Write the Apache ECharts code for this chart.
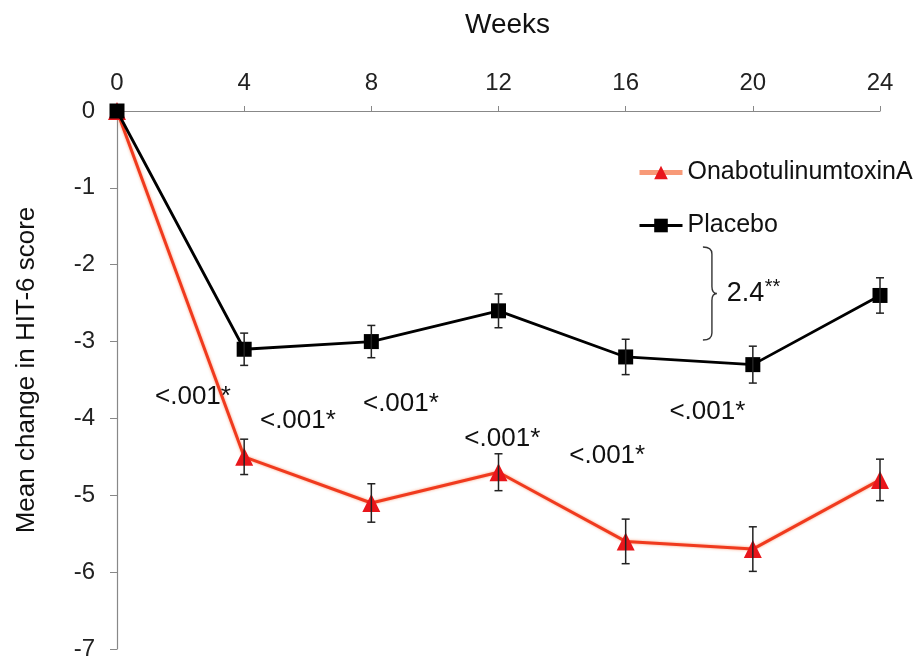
<!DOCTYPE html>
<html><head><meta charset="utf-8">
<script src="https://cdn.jsdelivr.net/npm/echarts@6/dist/echarts.min.js"></script>
<style>html,body{margin:0;padding:0;background:#fff}#c{width:920px;height:661px}</style>
</head><body><div id="c"></div>
<script>
const weeks = [0, 4, 8, 12, 16, 20, 24];
const onaMean = [0, -4.5, -5.1, -4.7, -5.6, -5.7, -4.8];
const onaErr = [0, 0.23, 0.25, 0.24, 0.29, 0.29, 0.27];
const plaMean = [0, -3.1, -3.0, -2.6, -3.2, -3.3, -2.4];
const plaErr = [0, 0.21, 0.21, 0.22, 0.23, 0.24, 0.23];
const pLabels = [
  [2.39, -3.72, '<.001*'],
  [5.69, -4.03, '<.001*'],
  [8.93, -3.81, '<.001*'],
  [12.12, -4.27, '<.001*'],
  [15.42, -4.49, '<.001*'],
  [18.57, -3.92, '<.001*']
];
const diffLabel = [[19.18, -2.38, '2.4', '**']];
const braceData = [[18.43, -1.77, -2.98]];

const chart = echarts.init(document.getElementById('c'), null, {renderer: 'canvas'});
const FONT = 'Liberation Sans, Arial, sans-serif';

function errData(mean, err) {
  return weeks.map((w, i) => [w, mean[i] - err[i], mean[i] + err[i]]);
}
function errRender(params, api) {
  const lo = api.coord([api.value(0), api.value(1)]);
  const hi = api.coord([api.value(0), api.value(2)]);
  if (Math.abs(lo[1] - hi[1]) < 1) return null;
  const cw = 4;
  const st = {stroke: '#222', lineWidth: 1.5};
  return {type: 'group', children: [
    {type: 'line', shape: {x1: lo[0], y1: lo[1], x2: hi[0], y2: hi[1]}, style: st},
    {type: 'line', shape: {x1: lo[0] - cw, y1: lo[1], x2: lo[0] + cw, y2: lo[1]}, style: st},
    {type: 'line', shape: {x1: hi[0] - cw, y1: hi[1], x2: hi[0] + cw, y2: hi[1]}, style: st}
  ]};
}

chart.setOption({
  animation: false,
  backgroundColor: '#fff',
  grid: {left: 117, right: 40, top: 111, bottom: 12, containLabel: false},
  legend: {
    orient: 'vertical', left: 632, top: 155, itemGap: 28,
    itemWidth: 43, itemHeight: 17, itemGap: 28,
    textStyle: {fontFamily: FONT, fontSize: 25, color: '#111'},
    data: [
      {name: 'OnabotulinumtoxinA', lineStyle: {color: '#f89a78', width: 5}},
      {name: 'Placebo', lineStyle: {color: '#000', width: 3}}
    ]
  },
  xAxis: {
    type: 'value', position: 'top', min: 0, max: 24, interval: 4,
    name: 'Weeks', nameLocation: 'middle', nameGap: 72,
    nameTextStyle: {fontFamily: FONT, fontSize: 28, color: '#111', padding: [0, 0, 0, 18]},
    axisLine: {show: true, lineStyle: {color: '#888', width: 1.2}},
    axisTick: {show: true, inside: false, length: 5, lineStyle: {color: '#888'}},
    axisLabel: {fontFamily: FONT, fontSize: 24, color: '#222', margin: 16},
    splitLine: {show: false}
  },
  yAxis: {
    type: 'value', min: -7, max: 0, interval: 1,
    name: 'Mean change in HIT-6 score', nameLocation: 'middle', nameGap: 77, nameRotate: 90,
    nameTextStyle: {fontFamily: FONT, fontSize: 26, color: '#111', padding: [0, 0, 0, 20]},
    axisLine: {show: true, onZero: false, lineStyle: {color: '#888', width: 1.2}},
    axisTick: {show: true, length: 7, lineStyle: {color: '#888'}},
    axisLabel: {fontFamily: FONT, fontSize: 24, color: '#222', margin: 22},
    splitLine: {show: false}
  },
  series: [
    {
      name: 'OnabotulinumtoxinA', type: 'line', z: 3, clip: false,
      data: weeks.map((w, i) => [w, onaMean[i]]),
      symbol: 'triangle', symbolSize: 18,
      itemStyle: {color: '#e8161b'},
      lineStyle: {color: '#f03a1e', width: 3, shadowColor: 'rgba(250,150,110,0.9)', shadowBlur: 3}
    },
    {
      name: 'Placebo', type: 'line', z: 4, clip: false,
      data: weeks.map((w, i) => [w, plaMean[i]]),
      symbol: 'rect', symbolSize: 15,
      itemStyle: {color: '#000'},
      lineStyle: {color: '#000', width: 2.8}
    },
    {type: 'custom', z: 5, data: errData(onaMean, onaErr), renderItem: errRender, silent: true},
    {type: 'custom', z: 5, data: errData(plaMean, plaErr), renderItem: errRender, silent: true},
    {
      type: 'custom', z: 6, silent: true, data: pLabels,
      renderItem(params, api) {
        const p = api.coord([api.value(0), api.value(1)]);
        return {type: 'text', x: p[0], y: p[1], style: {
          text: pLabels[params.dataIndex][2], fill: '#111', font: '26px ' + FONT,
          align: 'center', verticalAlign: 'middle'}};
      }
    },
    {
      type: 'custom', z: 6, silent: true, data: diffLabel,
      renderItem(params, api) {
        const p = api.coord([api.value(0), api.value(1)]);
        const d = diffLabel[params.dataIndex];
        return {type: 'group', children: [
          {type: 'text', x: p[0], y: p[1], style: {
            text: d[2], fill: '#111', font: '27px ' + FONT, align: 'left', verticalAlign: 'middle'}},
          {type: 'text', x: p[0] + 38, y: p[1] - 6, style: {
            text: d[3], fill: '#111', font: '20px ' + FONT, align: 'left', verticalAlign: 'middle'}}
        ]};
      }
    },
    {
      type: 'custom', z: 6, silent: true, data: braceData,
      renderItem(params, api) {
        const t = api.coord([api.value(0), api.value(1)]);
        const b = api.coord([api.value(0), api.value(2)]);
        const x = t[0], y1 = t[1], y2 = b[1], ym = (y1 + y2) / 2, r = 7, xm = x + 9, xt = x + 14;
        const d = `M${x} ${y1} Q${xm} ${y1} ${xm} ${y1 + r} L${xm} ${ym - r} Q${xm} ${ym} ${xt} ${ym} Q${xm} ${ym} ${xm} ${ym + r} L${xm} ${y2 - r} Q${xm} ${y2} ${x} ${y2}`;
        return {type: 'path', shape: {pathData: d}, style: {stroke: '#333', lineWidth: 1.4, fill: null}};
      }
    }
  ]
});
</script>
</body></html>
